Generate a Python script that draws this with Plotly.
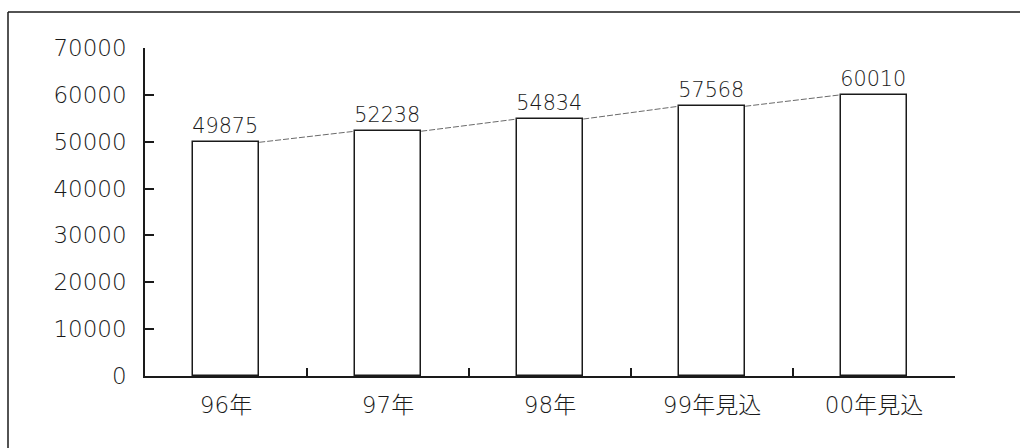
import plotly.graph_objects as go

# Annual values (units as published)
categories = ["96年", "97年", "98年", "99年見込", "00年見込"]
values = [49875, 52238, 54834, 57568, 60010]
y_ticks = [0, 10000, 20000, 30000, 40000, 50000, 60000, 70000]

BAR_WIDTH = 0.41
FONT = "DejaVu Sans, Noto Sans CJK JP"
WEIGHT = 200
INK = "#1a1a1a"

fig = go.Figure()

fig.add_trace(go.Bar(
    x=categories,
    y=values,
    width=BAR_WIDTH,
    marker=dict(color="white", line=dict(color=INK, width=1.5)),
    text=[str(v) for v in values],
    textposition="outside",
    textfont=dict(family=FONT, size=21, color=INK, weight=WEIGHT),
    cliponaxis=False,
    showlegend=False,
))

# Series lines joining the top-right corner of each bar to the top-left of the next
half = BAR_WIDTH / 2
lx, ly = [], []
for i in range(len(values) - 1):
    lx += [i + half, i + 1 - half, None]
    ly += [values[i], values[i + 1], None]

fig.add_trace(go.Scatter(
    x=lx, y=ly, xaxis="x2", mode="lines",
    line=dict(color="#6a6a6a", width=1, dash="6px,2px"),
    connectgaps=False, showlegend=False, hoverinfo="skip",
))

fig.update_layout(
    width=1020, height=448,
    margin=dict(l=145, r=65, t=48, b=72),
    paper_bgcolor="white", plot_bgcolor="white",
    font=dict(family=FONT, size=21, color=INK, weight=WEIGHT),
    bargap=0,
    xaxis=dict(
        type="category", categoryorder="array", categoryarray=categories,
        showline=True, linecolor=INK, linewidth=1.5,
        ticks="inside", tickson="boundaries", ticklen=8, tickwidth=1.5, tickcolor=INK,
        showgrid=False, zeroline=False,
        ticklabelstandoff=8,
        tickfont=dict(family=FONT, size=23, color=INK, weight=WEIGHT),
    ),
    xaxis2=dict(
        overlaying="x", range=[-0.5, len(categories) - 0.5],
        visible=False, showgrid=False, zeroline=False,
    ),
    yaxis=dict(
        range=[0, 70000], tickvals=y_ticks, ticktext=[str(t) for t in y_ticks],
        showline=True, linecolor=INK, linewidth=1.5,
        ticks="inside", ticklen=9, tickwidth=1.5, tickcolor=INK,
        showgrid=False, zeroline=False,
        ticklabelstandoff=12,
        tickfont=dict(family=FONT, size=23, color=INK, weight=WEIGHT),
    ),
    shapes=[
        # outer frame: top edge and left edge
        dict(type="line", xref="paper", yref="paper",
             x0=(8 - 145) / 810, x1=(1020 - 145) / 810,
             y0=(376 - 12) / 328, y1=(376 - 12) / 328,
             line=dict(color=INK, width=1.5)),
        dict(type="line", xref="paper", yref="paper",
             x0=(8 - 145) / 810, x1=(8 - 145) / 810,
             y0=(376 - 12) / 328, y1=(376 - 450) / 328,
             line=dict(color=INK, width=1.5)),
    ],
)

fig.write_html("out.html")
